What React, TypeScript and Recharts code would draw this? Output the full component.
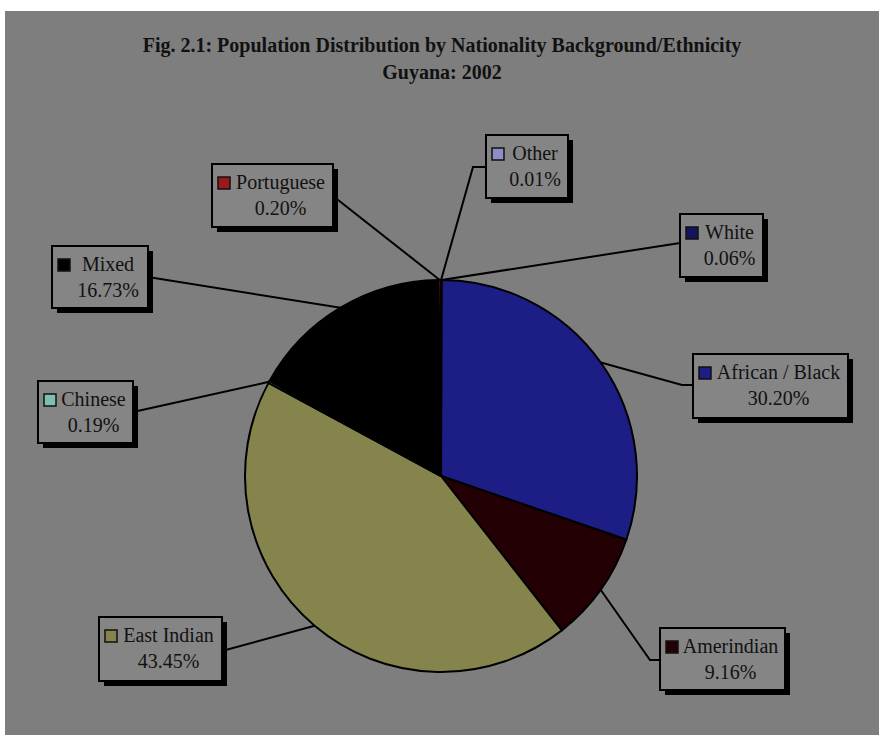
import { PieChart, Pie, Cell } from 'recharts'

const categories = ['Other', 'White', 'African / Black', 'Amerindian', 'East Indian', 'Chinese', 'Mixed', 'Portuguese']
const shares = [0.01, 0.06, 30.2, 9.16, 43.45, 0.19, 16.73, 0.2]
const sliceColors = ['#8e8ec4', '#14145e', '#1d1d86', '#220004', '#84844c', '#7fbfae', '#000000', '#9a1a1a']

// callout boxes + leader line bends (layout only)
const labelBoxes: Record<string, { x: number; y: number; w: number; h: number; path: number[][] }> = {
  Other: { x: 486, y: 135, w: 82, h: 63, path: [[473, 167], [486, 167]] },
  White: { x: 680, y: 214, w: 83, h: 63, path: [[680, 243]] },
  'African / Black': { x: 693, y: 354, w: 155, h: 64, path: [[682, 385], [693, 385]] },
  Amerindian: { x: 660, y: 628, w: 125, h: 62, path: [[650, 660], [660, 660]] },
  'East Indian': { x: 99, y: 617, w: 123, h: 64, path: [[222, 651]] },
  Chinese: { x: 38, y: 381, w: 95, h: 62, path: [[133, 412]] },
  Mixed: { x: 52, y: 246, w: 96, h: 62, path: [[148, 277]] },
  Portuguese: { x: 212, y: 164, w: 121, h: 63, path: [[333, 196]] },
}

const data = categories.map((name, i) => ({ name, value: shares[i] }))

const RADIAN = Math.PI / 180
const FONT = '"Liberation Serif", "Times New Roman", serif'

const CalloutLabel = (props: any) => {
  const { cx, cy, midAngle, outerRadius, index } = props
  const name = categories[index]
  const box = labelBoxes[name]
  if (!box) return null
  const sx = cx + outerRadius * Math.cos(-midAngle * RADIAN)
  const sy = cy + outerRadius * Math.sin(-midAngle * RADIAN)
  const pts = [[sx, sy], ...box.path].map((p) => p.join(',')).join(' ')
  const textX = box.x + box.w / 2 + 8
  return (
    <g>
      <polyline points={pts} fill="none" stroke="#000" strokeWidth={2} />
      <rect x={box.x + 5} y={box.y + 5} width={box.w} height={box.h} fill="#000" />
      <rect x={box.x} y={box.y} width={box.w} height={box.h} fill="#858585" stroke="#000" strokeWidth={2} />
      <rect x={box.x + 6} y={box.y + 13} width={12} height={12} fill={sliceColors[index]} stroke="#111" strokeWidth={1.5} />
      <text x={textX} y={box.y + 25} textAnchor="middle" fontFamily={FONT} fontSize={20} fill="#111">
        {name}
      </text>
      <text x={textX} y={box.y + 51} textAnchor="middle" fontFamily={FONT} fontSize={20} fill="#111">
        {shares[index].toFixed(2)}%
      </text>
    </g>
  )
}

export default function App() {
  return (
    <div style={{ position: 'absolute', left: 0, top: 0, width: 879, height: 735, background: '#fff', overflow: 'hidden' }}>
      <div style={{ position: 'absolute', left: 5, top: 11, right: 0, bottom: 0, background: '#7e7e7e' }} />
      <div
        style={{
          position: 'absolute',
          left: 0,
          width: 884,
          top: 32,
          textAlign: 'center',
          fontFamily: FONT,
          fontWeight: 'bold',
          fontSize: 20,
          lineHeight: '27px',
          color: '#111',
        }}
      >
        <div>Fig. 2.1: Population Distribution by Nationality Background/Ethnicity</div>
        <div>Guyana: 2002</div>
      </div>
      <div style={{ position: 'absolute', left: 0, top: 0 }}>
        <PieChart width={879} height={735} margin={{ top: 0, right: 0, bottom: 0, left: 0 }}>
          <Pie
            data={data}
            dataKey="value"
            nameKey="name"
            cx={441}
            cy={476}
            outerRadius={196}
            startAngle={90}
            endAngle={-270}
            stroke="#000"
            strokeWidth={2}
            label={CalloutLabel}
            labelLine={false}
            isAnimationActive={false}
          >
            {data.map((d, i) => (
              <Cell key={d.name} fill={sliceColors[i]} />
            ))}
          </Pie>
        </PieChart>
      </div>
    </div>
  )
}
